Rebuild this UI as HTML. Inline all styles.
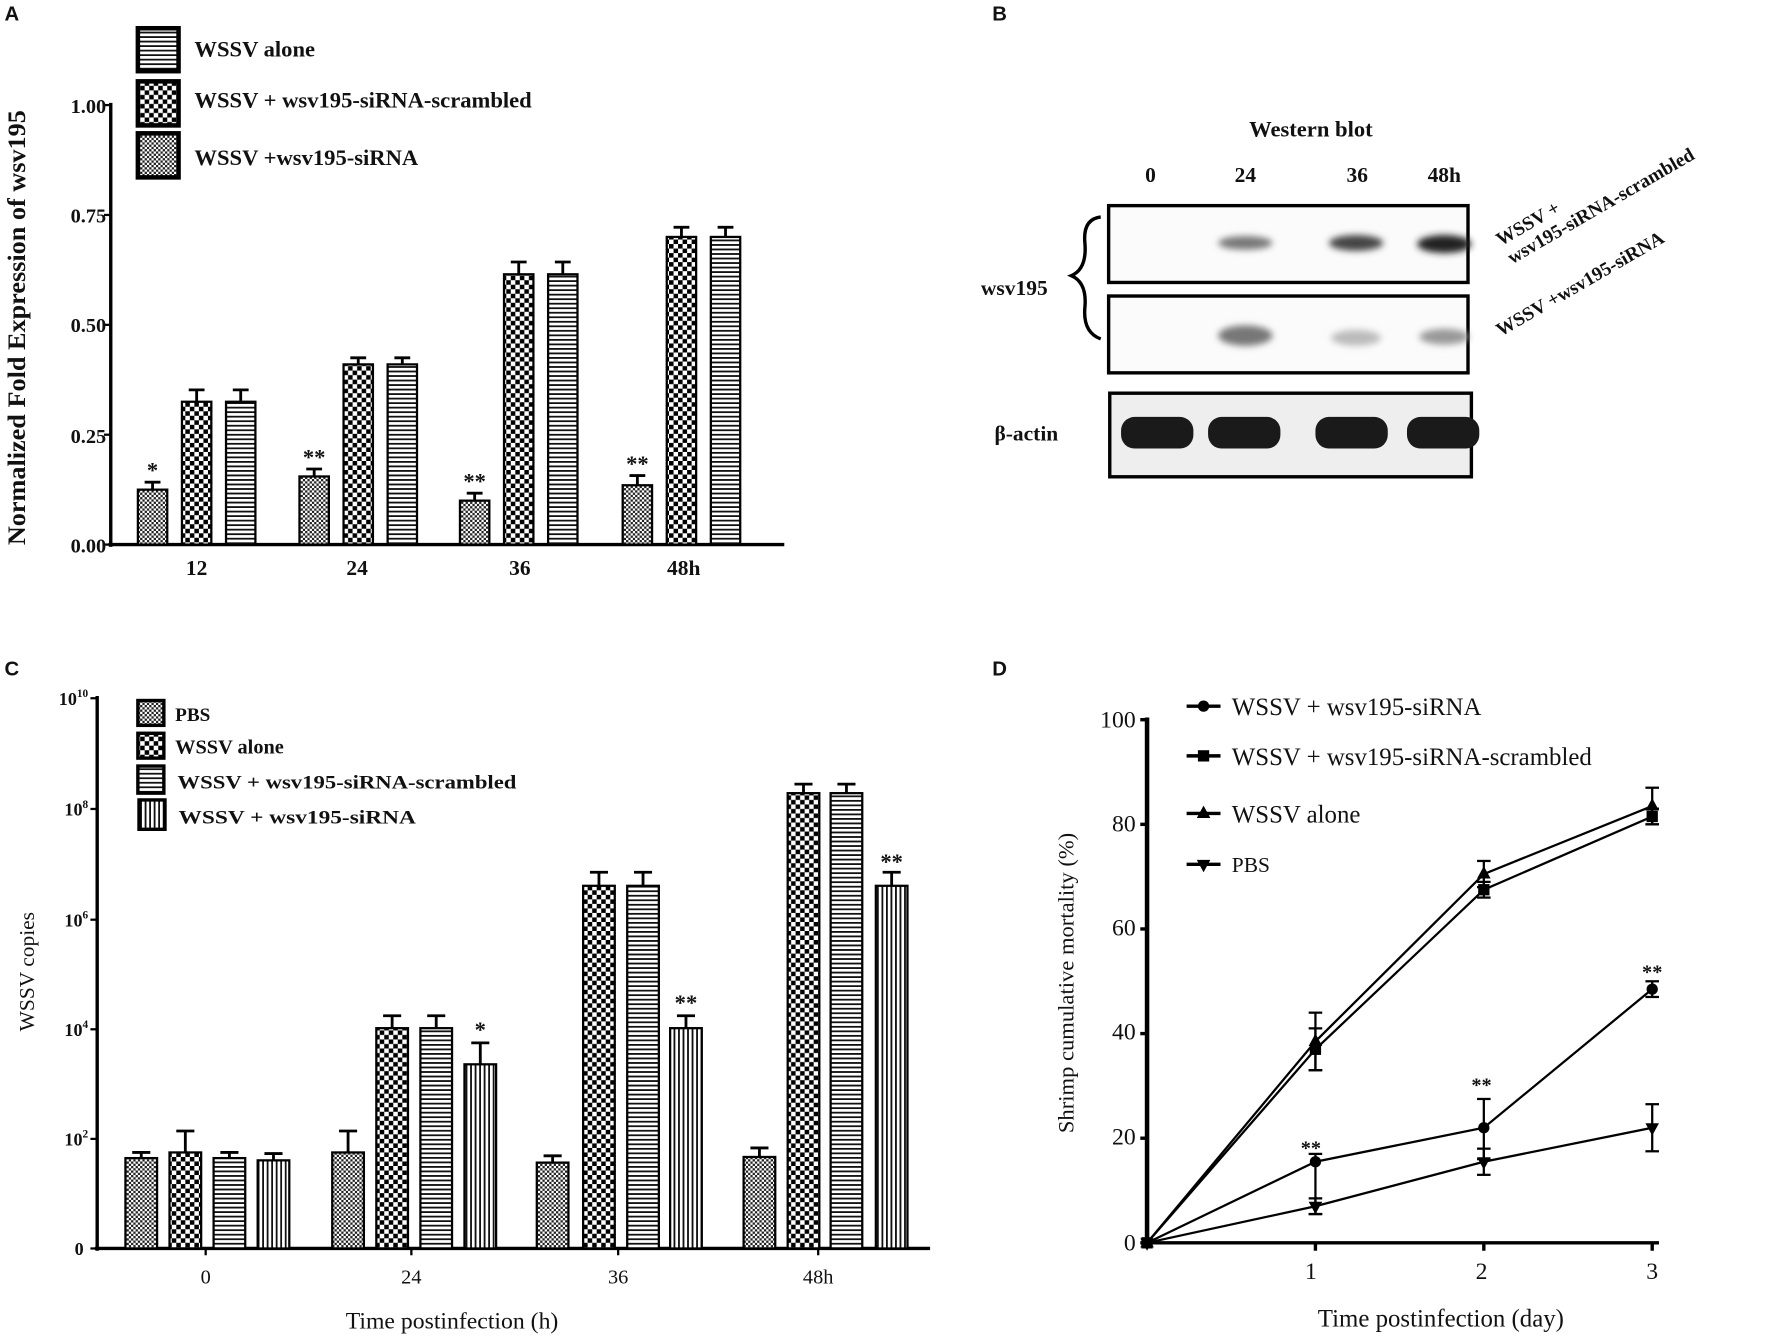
<!DOCTYPE html>
<html><head><meta charset="utf-8"><style>
html,body{margin:0;padding:0;background:#fff;}
svg{display:block;}
text{font-family:"Liberation Serif",serif;fill:#111;}
.b{font-weight:bold;}
.s{font-family:"Liberation Sans",sans-serif;font-weight:bold;}
</style></head><body>
<svg id="g" width="1772" height="1340" viewBox="0 0 1568 1186" preserveAspectRatio="none" xmlns="http://www.w3.org/2000/svg">
<defs>
<pattern id="ck" width="8" height="8" patternUnits="userSpaceOnUse"><rect width="8" height="8" fill="#fff"/><rect width="4" height="4" fill="#000"/><rect x="4" y="4" width="4" height="4" fill="#000"/></pattern>
<pattern id="fk" width="4" height="4" patternUnits="userSpaceOnUse"><rect width="4" height="4" fill="#fff"/><rect width="2" height="2" fill="#222"/><rect x="2" y="2" width="2" height="2" fill="#222"/></pattern>
<pattern id="hz" width="4" height="4" patternUnits="userSpaceOnUse"><rect width="4" height="4" fill="#fff"/><rect width="4" height="1.6" fill="#111"/></pattern>
<pattern id="vt" width="4" height="4" patternUnits="userSpaceOnUse"><rect width="4" height="4" fill="#fff"/><rect width="1.6" height="4" fill="#111"/></pattern>
<filter id="bl"><feGaussianBlur stdDeviation="3"/></filter>
</defs>

<text x="4" y="18" class="s" font-size="18">A</text>
<text x="878" y="18" class="s" font-size="18">B</text>
<text x="4" y="598" class="s" font-size="18">C</text>
<text x="878" y="598" class="s" font-size="18">D</text>

<!-- Panel A -->
<g id="A"></g>
<text class="b" font-size="22" transform="translate(22,290) rotate(-90)" text-anchor="middle" textLength="385" lengthAdjust="spacingAndGlyphs">Normalized Fold Expression of  wsv195</text>
<g font-size="18" class="b" text-anchor="end">
<text x="94" y="100">1.00</text><text x="94" y="197">0.75</text><text x="94" y="294">0.50</text><text x="94" y="392">0.25</text><text x="94" y="489">0.00</text>
</g>
<g font-size="19" class="b" text-anchor="middle">
<text x="174" y="509">12</text><text x="316" y="509">24</text><text x="460" y="509">36</text><text x="605" y="509">48h</text>
</g>
<rect x="122" y="25" width="36" height="38" fill="url(#hz)" stroke="#000" stroke-width="4"/>
<rect x="122" y="72" width="36" height="39" fill="url(#ck)" stroke="#000" stroke-width="4"/>
<rect x="122" y="118" width="36" height="39" fill="url(#fk)" stroke="#000" stroke-width="4"/>
<g font-size="20" class="b"><text x="172" y="50">WSSV alone</text><text x="172" y="95">WSSV + wsv195-siRNA-scrambled</text><text x="172" y="146">WSSV +wsv195-siRNA</text></g>

<!-- Panel B -->
<text x="1160" y="121" font-size="20" class="b" text-anchor="middle">Western blot</text>
<g font-size="19" class="b" text-anchor="middle"><text x="1018" y="161">0</text><text x="1102" y="161">24</text><text x="1201" y="161">36</text><text x="1278" y="161">48h</text></g>
<rect x="981" y="182" width="318" height="68" fill="#fbfbfb" stroke="#000" stroke-width="3"/>
<rect x="981" y="262" width="318" height="68" fill="#fbfbfb" stroke="#000" stroke-width="3"/>
<rect x="982" y="348" width="320" height="74" fill="#eee" stroke="#000" stroke-width="3"/>
<g filter="url(#bl)">
<ellipse cx="1102" cy="215" rx="24" ry="6" fill="#777"/>
<ellipse cx="1200" cy="215" rx="24" ry="7" fill="#444"/>
<ellipse cx="1278" cy="216" rx="24" ry="8" fill="#222"/>
<ellipse cx="1102" cy="297" rx="24" ry="9" fill="#777"/>
<ellipse cx="1200" cy="299" rx="22" ry="7" fill="#bbb"/>
<ellipse cx="1278" cy="298" rx="22" ry="7" fill="#999"/>
</g>
<g fill="#1a1a1a"><rect x="992" y="369" width="64" height="28" rx="12"/><rect x="1069" y="369" width="64" height="28" rx="12"/><rect x="1164" y="369" width="64" height="28" rx="12"/><rect x="1245" y="369" width="64" height="28" rx="12"/></g>
<text x="868" y="261" font-size="19" class="b">wsv195</text>
<path d="M974,192 Q958,194 960,215 Q962,238 948,244 Q962,250 960,272 Q958,294 974,300" fill="none" stroke="#000" stroke-width="3"/>
<text x="880" y="390" font-size="19" class="b">β-actin</text>
<g font-size="17" class="b">
<text transform="translate(1328,218) rotate(-30)">WSSV +</text>
<text transform="translate(1338,234) rotate(-30)">wsv195-siRNA-scrambled</text>
<text transform="translate(1328,298) rotate(-30)">WSSV +wsv195-siRNA</text>
</g>

<!-- Panel C -->
<g id="C"></g>
<text font-size="19" transform="translate(30,860) rotate(-90)" text-anchor="middle">WSSV copies</text>
<g font-size="16" class="b" text-anchor="end">
<text x="78" y="624">10<tspan font-size="10" dy="-7">10</tspan></text>
<text x="78" y="722">10<tspan font-size="10" dy="-7">8</tspan></text>
<text x="78" y="820">10<tspan font-size="10" dy="-7">6</tspan></text>
<text x="78" y="917">10<tspan font-size="10" dy="-7">4</tspan></text>
<text x="78" y="1014">10<tspan font-size="10" dy="-7">2</tspan></text>
<text x="74" y="1111">0</text>
</g>
<g font-size="18" text-anchor="middle"><text x="182" y="1136">0</text><text x="364" y="1136">24</text><text x="547" y="1136">36</text><text x="724" y="1136">48h</text></g>
<text x="400" y="1176" font-size="21" text-anchor="middle">Time postinfection (h)</text>
<rect x="122" y="620" width="23" height="22" fill="url(#fk)" stroke="#000" stroke-width="3"/>
<rect x="122" y="649" width="23" height="22" fill="url(#ck)" stroke="#000" stroke-width="3"/>
<rect x="122" y="678" width="23" height="24" fill="url(#hz)" stroke="#000" stroke-width="3"/>
<rect x="123" y="708" width="23" height="26" fill="url(#vt)" stroke="#000" stroke-width="3"/>
<g font-size="17" class="b"><text x="155" y="638">PBS</text><text x="155" y="667" font-size="18">WSSV alone</text><text x="157" y="698" textLength="300" lengthAdjust="spacingAndGlyphs">WSSV + wsv195-siRNA-scrambled</text><text x="158" y="729" textLength="210" lengthAdjust="spacingAndGlyphs">WSSV + wsv195-siRNA</text></g>

<!-- Panel D -->
<g id="D"></g>
<text font-size="20" transform="translate(950,870) rotate(-90)" text-anchor="middle">Shrimp cumulative mortality (%)</text>
<g font-size="21" text-anchor="end"><text x="1005" y="644">100</text><text x="1005" y="736">80</text><text x="1005" y="828">60</text><text x="1005" y="920">40</text><text x="1005" y="1013">20</text><text x="1005" y="1107">0</text></g>
<g font-size="21" text-anchor="middle"><text x="1160" y="1132">1</text><text x="1311" y="1132">2</text><text x="1462" y="1132">3</text></g>
<text x="1275" y="1174" font-size="22" text-anchor="middle">Time postinfection (day)</text>
<g font-size="22"><text x="1090" y="633">WSSV + wsv195-siRNA</text><text x="1090" y="677">WSSV + wsv195-siRNA-scrambled</text><text x="1090" y="728">WSSV alone</text><text x="1090" y="772" font-size="19">PBS</text></g>
</svg>
<script>
var NS="http://www.w3.org/2000/svg";
function el(p,t,a){var e=document.createElementNS(NS,t);for(var k in a)e.setAttribute(k,a[k]);p.appendChild(e);return e;}
function tx(p,x,y,s,fs){var e=el(p,"text",{x:x,y:y,"font-size":fs||20,"text-anchor":"middle","class":"b"});e.textContent=s;}
var A=document.getElementById("A");
function yA(v){return 482-389*v;}
el(A,"line",{x1:98,y1:91,x2:98,y2:484,stroke:"#000","stroke-width":3});
el(A,"line",{x1:96,y1:482,x2:694,y2:482,stroke:"#000","stroke-width":3});
[1,0.75,0.5,0.25,0].forEach(function(v){el(A,"line",{x1:92,y1:yA(v),x2:98,y2:yA(v),stroke:"#000","stroke-width":2});});
var gs=[122,265,407,551],off=[0,39,78],pats=["fk","ck","hz"];
var vals=[[0.125,0.325,0.325],[0.155,0.41,0.41],[0.10,0.615,0.615],[0.135,0.70,0.70]];
var errs=[[0.017,0.027,0.027],[0.017,0.015,0.015],[0.017,0.028,0.028],[0.022,0.022,0.022]];
var stars=["*","**","**","**"];
gs.forEach(function(g,i){for(var j=0;j<3;j++){var x=g+off[j],v=vals[i][j],t=yA(v),e=yA(v+errs[i][j]);
el(A,"line",{x1:x+13,y1:t,x2:x+13,y2:e,stroke:"#000","stroke-width":2.5});el(A,"line",{x1:x+6,y1:e,x2:x+20,y2:e,stroke:"#000","stroke-width":2.5});
el(A,"rect",{x:x,y:t,width:26,height:482-t,fill:"url(#"+pats[j]+")",stroke:"#000","stroke-width":2});}
tx(A,g+13,yA(vals[i][0]+errs[i][0])-4,stars[i],20);});
var C=document.getElementById("C");
el(C,"line",{x1:86,y1:616,x2:86,y2:1107,stroke:"#000","stroke-width":3});
el(C,"line",{x1:84,y1:1105,x2:823,y2:1105,stroke:"#000","stroke-width":3});
[618,716,814,911,1008,1105].forEach(function(y){el(C,"line",{x1:80,y1:y,x2:86,y2:y,stroke:"#000","stroke-width":2});});
[182,364,547,724].forEach(function(x){el(C,"line",{x1:x,y1:1105,x2:x,y2:1111,stroke:"#000","stroke-width":2});});
var cg=[[111,150,189,228],[294,333,372,411],[475,516,555,593],[658,697,735,775]];
var ct=[[1025,1020,1025,1027],[1020,910,910,942],[1029,784,784,910],[1024,702,702,784]];
var ce=[[1020,1001,1020,1021],[1001,899,899,923],[1023,772,772,899],[1016,694,694,772]];
var cp=["fk","ck","hz","vt"];
for(var i=0;i<4;i++)for(var j=0;j<4;j++){var x=cg[i][j],t=ct[i][j],e=ce[i][j];
el(C,"line",{x1:x+14,y1:t,x2:x+14,y2:e,stroke:"#000","stroke-width":2.5});el(C,"line",{x1:x+6,y1:e,x2:x+22,y2:e,stroke:"#000","stroke-width":2.5});
el(C,"rect",{x:x,y:t,width:28,height:1105-t,fill:"url(#"+cp[j]+")",stroke:"#000","stroke-width":2});}
tx(C,425,918,"*",20);tx(C,607,894,"**",20);tx(C,789,769,"**",20);
var D=document.getElementById("D");
function xD(d){return 1015+149*d;}function yD(v){return 1100-4.63*v;}
el(D,"line",{x1:1015,y1:635,x2:1015,y2:1103,stroke:"#000","stroke-width":4});
el(D,"line",{x1:1012,y1:1100,x2:1468,y2:1100,stroke:"#000","stroke-width":3});
[0,20,40,60,80,100].forEach(function(v){el(D,"line",{x1:1009,y1:yD(v),x2:1015,y2:yD(v),stroke:"#000","stroke-width":3});});
[1,2,3].forEach(function(d){el(D,"line",{x1:xD(d),y1:1100,x2:xD(d),y2:1107,stroke:"#000","stroke-width":3});});
var S=[{v:[0,15.5,22,48.5],lo:[0,10,6,1.5],hi:[0,1.5,5.5,1.5],m:"c"},{v:[0,37,67.5,81.5],lo:[0,4,1.5,1.5],hi:[0,4,1.5,1.5],m:"s"},{v:[0,38.5,70.5,83.5],lo:[0,5.5,2.5,3.5],hi:[0,5.5,2.5,3.5],m:"t"},{v:[0,7,15.5,22],lo:[0,1.5,2.5,4.5],hi:[0,1.5,2.5,4.5],m:"v"}];
function mk(p,m,x,y){if(m=="c")el(p,"circle",{cx:x,cy:y,r:5,fill:"#000"});
else if(m=="s")el(p,"rect",{x:x-5,y:y-5,width:10,height:10,fill:"#000"});
else if(m=="t")el(p,"path",{d:"M"+x+","+(y-7)+"L"+(x+6)+","+(y+4)+"L"+(x-6)+","+(y+4)+"Z",fill:"#000"});
else el(p,"path",{d:"M"+x+","+(y+7)+"L"+(x+6)+","+(y-4)+"L"+(x-6)+","+(y-4)+"Z",fill:"#000"});}
S.forEach(function(s){var d="";s.v.forEach(function(v,i){d+=(i?"L":"M")+xD(i)+","+yD(v);});
el(D,"path",{d:d,fill:"none",stroke:"#000","stroke-width":2});
s.v.forEach(function(v,i){if(i){var x=xD(i),a=yD(v-s.lo[i]),b=yD(v+s.hi[i]);el(D,"line",{x1:x,y1:a,x2:x,y2:b,stroke:"#000","stroke-width":2});
el(D,"line",{x1:x-6,y1:b,x2:x+6,y2:b,stroke:"#000","stroke-width":2});el(D,"line",{x1:x-6,y1:a,x2:x+6,y2:a,stroke:"#000","stroke-width":2});}
mk(D,s.m,xD(i),yD(v));});});
tx(D,1160,1022,"**",18);tx(D,1311,966,"**",18);tx(D,1462,866,"**",18);
["c","s","t","v"].forEach(function(m,i){var y=[625,669,720,765][i];el(D,"line",{x1:1050,y1:y,x2:1080,y2:y,stroke:"#000","stroke-width":3});mk(D,m,1065,y);});
</script>
</body></html>
